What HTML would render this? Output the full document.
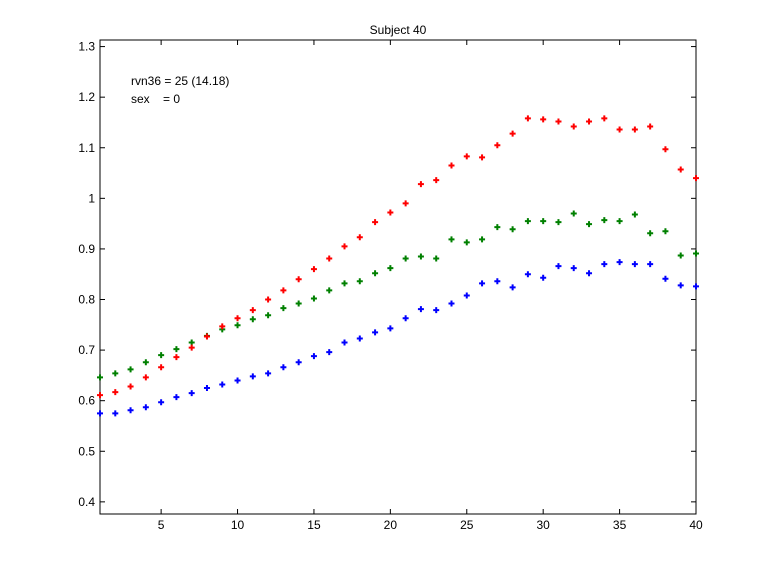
<!DOCTYPE html>
<html><head><meta charset="utf-8"><style>
body{margin:0;background:#fff}
svg{display:block;font-family:"Liberation Sans",sans-serif;font-size:12px}
</style></head><body>
<svg id="chart" width="769" height="576" viewBox="0 0 769 576"></svg>
<script>
const xs=[];for(let i=1;i<=40;i++)xs.push(i);
const redVals=[0.611,0.617,0.628,0.646,0.666,0.686,0.705,0.727,0.747,0.763,0.779,0.800,0.818,0.840,0.860,0.881,0.905,0.923,0.953,0.972,0.990,1.028,1.036,1.065,1.083,1.081,1.105,1.128,1.158,1.156,1.152,1.142,1.152,1.158,1.136,1.136,1.142,1.097,1.057,1.040];
const greenVals=[0.646,0.654,0.662,0.676,0.690,0.702,0.715,0.728,0.741,0.749,0.761,0.769,0.783,0.792,0.802,0.818,0.832,0.836,0.852,0.862,0.881,0.885,0.881,0.919,0.913,0.919,0.943,0.939,0.955,0.955,0.953,0.970,0.949,0.957,0.955,0.968,0.931,0.935,0.887,0.891];
const blueVals=[0.575,0.575,0.581,0.587,0.597,0.607,0.615,0.625,0.632,0.640,0.648,0.654,0.666,0.676,0.688,0.696,0.715,0.723,0.735,0.743,0.763,0.781,0.779,0.792,0.808,0.832,0.836,0.824,0.850,0.843,0.866,0.862,0.852,0.870,0.874,0.870,0.870,0.841,0.828,0.826];
const xTicks=[5,10,15,20,25,30,35,40];
const yTicks=[0.4,0.5,0.6,0.7,0.8,0.9,1.0,1.1,1.2,1.3];
const yTickLabels=["0.4","0.5","0.6","0.7","0.8","0.9","1","1.1","1.2","1.3"];

const L=100,R=696,T=40,B=514,xmin=1,xmax=40,ymin=0.376,ymax=1.313;
const X=v=>L+(v-xmin)/(xmax-xmin)*(R-L);
const Y=v=>B-(v-ymin)/(ymax-ymin)*(B-T);
const svg=document.getElementById('chart');
const NS='http://www.w3.org/2000/svg';
function mk(tag,attrs,parent){const e=document.createElementNS(NS,tag);for(const k in attrs)e.setAttribute(k,attrs[k]);(parent||svg).appendChild(e);return e;}

const title=mk('text',{x:398,y:34,'text-anchor':'middle'});title.textContent='Subject 40';



const plot=mk('g',{});


const frame=mk('rect',{x:L,y:T,width:R-L,height:B-T,fill:'#fff',stroke:'#000','stroke-width':1},plot);



const xg=mk('g',{});


xTicks.forEach(t=>{
  const x=X(t);
  mk('line',{x1:x,y1:B,x2:x,y2:B-5,stroke:'#000'},xg);
  mk('line',{x1:x,y1:T,x2:x,y2:T+5,stroke:'#000'},xg);
  const tx=mk('text',{x:x,y:B+15,'text-anchor':'middle'},xg);tx.textContent=t;
  
  
});
const yg=mk('g',{});


yTicks.forEach((t,i)=>{
  const y=Y(t);
  mk('line',{x1:L,y1:y,x2:L+5,y2:y,stroke:'#000'},yg);
  mk('line',{x1:R,y1:y,x2:R-5,y2:y,stroke:'#000'},yg);
  const tx=mk('text',{x:L-5,y:y+4,'text-anchor':'end'},yg);tx.textContent=yTickLabels[i];
  
  
});

const a1=mk('text',{x:131,y:85});a1.textContent='rvn36 = 25 (14.18)';


const a2=mk('text',{x:131,y:103,style:'white-space:pre'});a2.textContent='sex    = 0';



function series(vals,color,name){
  const g=mk('g',{fill:color});
  
  
  vals.forEach((v,i)=>{
    const cx=X(xs[i]),cy=Y(v);
    const p=mk('path',{d:`M${cx-1} ${cy-3}h2v2h2v2h-2v2h-2v-2h-2v-2h2z`},g);
    
    
  });
}
series(blueVals,'#0000ff','series-blue');
series(greenVals,'#008000','series-green');
series(redVals,'#ff0000','series-red');
</script>
</body></html>
